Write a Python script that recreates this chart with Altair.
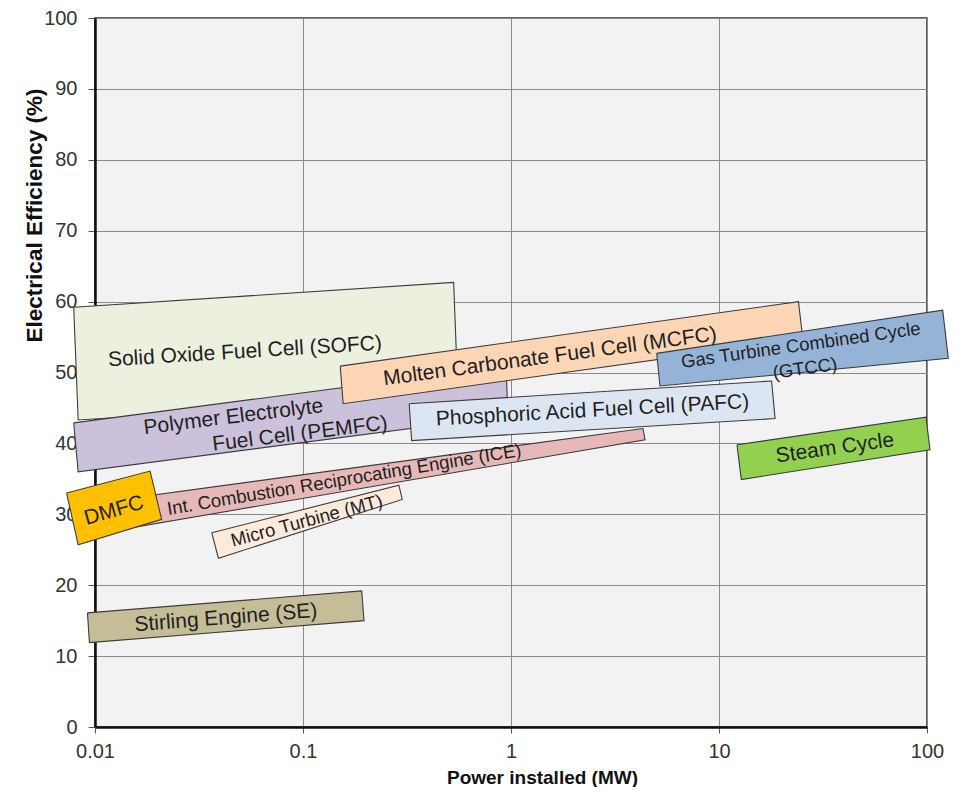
import altair as alt
import pandas as pd

# ---- data ----
tick_x = [0.01, 0.1, 1, 10, 100]
tick_y = [0, 10, 20, 30, 40, 50, 60, 70, 80, 90, 100]

shape_names = ["SOFC", "PEMFC", "MCFC", "ICE", "PAFC", "GTCC", "DMFC", "MT", "SE", "Steam"]
shape_colors = ["#EBF1DE", "#CCC1DA", "#FCD5B5", "#E6B9B8", "#DCE6F2",
                "#95B3D7", "#FFC000", "#FDEADA", "#C4BD97", "#92D050"]
# corners (power MW, efficiency %) : TL, TR, BR, BL
corner_x = [
    [0.0079, 0.53, 0.556, 0.0083],
    [0.0079, 0.946, 0.967, 0.0083],
    [0.151, 24.1, 25.3, 0.156],
    [0.0106, 4.31, 4.41, 0.0108],
    [0.324, 17.9, 18.6, 0.333],
    [5.02, 119.0, 126.6, 5.20],
    [0.0073, 0.0184, 0.0209, 0.0083],
    [0.0364, 0.289, 0.300, 0.0392],
    [0.0092, 0.1915, 0.1965, 0.0094],
    [12.2, 98.9, 103.4, 12.8],
]
corner_y = [
    [59.2, 62.7, 46.7, 43.3],
    [42.9, 50.9, 43.9, 36.0],
    [50.9, 60.0, 54.7, 45.6],
    [31.7, 42.1, 40.5, 27.4],
    [45.6, 48.8, 43.5, 40.4],
    [52.7, 58.8, 52.0, 48.1],
    [33.0, 36.1, 29.3, 25.7],
    [27.4, 34.1, 32.1, 23.8],
    [16.1, 19.2, 15.0, 11.9],
    [39.8, 43.7, 39.1, 34.9],
]

label_text = [
    "Solid Oxide Fuel Cell (SOFC)",
    "Polymer Electrolyte",
    "Fuel Cell (PEMFC)",
    "Molten Carbonate Fuel Cell (MCFC)",
    "Phosphoric Acid Fuel Cell (PAFC)",
    "Gas Turbine Combined Cycle",
    "(GTCC)",
    "Int. Combustion Reciprocating Engine (ICE)",
    "DMFC",
    "Micro Turbine (MT)",
    "Stirling Engine (SE)",
    "Steam Cycle",
]
label_x = [0.0526, 0.0463, 0.0967, 1.54, 2.465, 24.7, 25.9, 0.1578, 0.01234, 0.1042, 0.0426, 36.1]
label_y = [52.9, 43.7, 41.3, 52.2, 44.6, 53.85, 50.56, 34.9, 30.5, 29.1, 15.35, 39.3]
label_angle = [356.5, 353, 353, 352.3, 356.8, 352, 352, 350.5, 344, 345, 355.5, 352]
label_size = [21, 21, 21, 21, 21, 18.5, 18.5, 18.5, 21, 18.5, 21, 21]

FONT = "Liberation Sans, Arial, sans-serif"

xscale = alt.Scale(type="log", domain=[0.01, 100], nice=False)
yscale = alt.Scale(domain=[0, 100], nice=False, zero=False)

xaxis = alt.Axis(values=tick_x, format="~g", title="Power installed (MW)",
                 titleX=447, titleY=50, titleBaseline="middle", titleAlign="center",
                 titleFontSize=19, labelFlush=False, labelPadding=8,
                 grid=True, zindex=0)
yaxis = alt.Axis(values=tick_y, title="Electrical Efficiency (%)",
                 titleX=-61, titleY=197, titleAngle=270, titleBaseline="middle",
                 titleAlign="center", titleFontSize=22.5, labelPadding=11,
                 tickSize=7, grid=True, zindex=0)

layers = []
for i, name in enumerate(shape_names):
    xs = corner_x[i] + [corner_x[i][0]]
    ys = corner_y[i] + [corner_y[i][0]]
    df = pd.DataFrame({"x": xs, "y": ys, "k": list(range(len(xs)))})
    layers.append(
        alt.Chart(df).mark_line(fill=shape_colors[i], stroke="#3c3c3c",
                                strokeWidth=1.1, clip=False, interpolate="linear")
        .encode(
            x=alt.X("x:Q", scale=xscale, axis=xaxis),
            y=alt.Y("y:Q", scale=yscale, axis=yaxis),
            order=alt.Order("k:Q"),
        )
    )

lab_df = pd.DataFrame({"t": label_text, "x": label_x, "y": label_y,
                       "a": label_angle, "s": label_size})
text = alt.Chart(lab_df).mark_text(font=FONT, color="#1f1f1f", align="center",
                                   baseline="middle", clip=False).encode(
    x=alt.X("x:Q", scale=xscale, axis=xaxis),
    y=alt.Y("y:Q", scale=yscale, axis=yaxis),
    text="t:N",
    angle=alt.Angle("a:Q", scale=None),
    size=alt.Size("s:Q", scale=None, legend=None),
)

chart = alt.layer(*layers, text).properties(
    width=832, height=709,
    autosize=alt.AutoSizeParams(type="none"),
    padding={"left": 87, "top": 10, "right": 34, "bottom": 60},
).configure_view(
    fill="#F2F2F2", stroke="#2a2a2a", strokeWidth=1.5
).configure_axis(
    labelFont=FONT, labelFontSize=20, labelColor="#333333",
    titleFont=FONT, titleFontWeight="bold", titleColor="#111111",
    gridColor="#8a8a8a", gridWidth=1, gridOpacity=1,
    domainColor="#111111", domainWidth=2.5,
    tickColor="#555555", tickSize=6, tickWidth=1,
)

chart.save("out.html", embed_options={"renderer": "svg", "actions": False})
